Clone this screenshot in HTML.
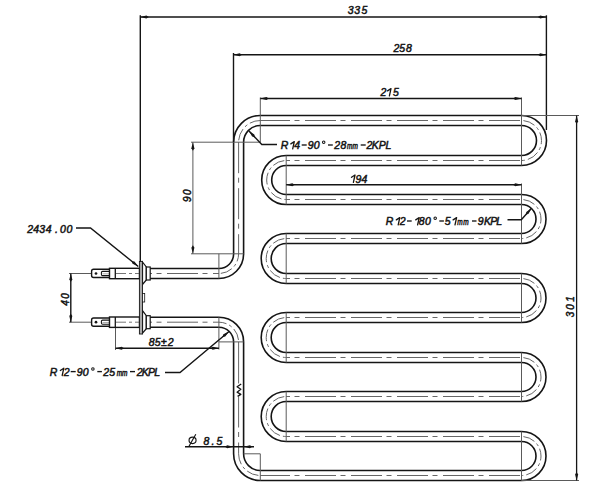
<!DOCTYPE html>
<html><head><meta charset="utf-8"><style>
html,body{margin:0;padding:0;background:#fff;width:600px;height:497px;overflow:hidden;}
svg{display:block;}
text{font-family:"Liberation Sans",sans-serif;}
</style></head><body>
<svg width="600" height="497" viewBox="0 0 600 497">
<rect width="600" height="497" fill="#fff"/>
<path d="M 150 273.5 H 218.9 A 19.7 19.7 0 0 0 238.6 253.8 V 142.2 A 21.7 21.7 0 0 1 260.3 120.5 H 521.5 A 20 20 0 0 1 521.5 160.5 H 286.2 A 19.5 19.5 0 0 0 286.2 199.5 H 521.5 A 19.5 19.5 0 0 1 521.5 238.5 H 286.2 A 20 20 0 0 0 286.2 278.5 H 521.5 A 19.5 19.5 0 0 1 521.5 317.5 H 286.2 A 20 20 0 0 0 286.2 357.5 H 521.5 A 19.5 19.5 0 0 1 521.5 396.5 H 286.2 A 20 20 0 0 0 286.2 436.5 H 521.5 A 19.5 19.5 0 0 1 521.5 475.5 H 260.3 A 21.7 21.7 0 0 1 238.6 453.8 V 341.9 A 19.7 19.7 0 0 0 218.9 322.2 H 150" stroke="#151515" stroke-width="11.6" fill="none"/><path d="M 150 273.5 H 218.9 A 19.7 19.7 0 0 0 238.6 253.8 V 142.2 A 21.7 21.7 0 0 1 260.3 120.5 H 521.5 A 20 20 0 0 1 521.5 160.5 H 286.2 A 19.5 19.5 0 0 0 286.2 199.5 H 521.5 A 19.5 19.5 0 0 1 521.5 238.5 H 286.2 A 20 20 0 0 0 286.2 278.5 H 521.5 A 19.5 19.5 0 0 1 521.5 317.5 H 286.2 A 20 20 0 0 0 286.2 357.5 H 521.5 A 19.5 19.5 0 0 1 521.5 396.5 H 286.2 A 20 20 0 0 0 286.2 436.5 H 521.5 A 19.5 19.5 0 0 1 521.5 475.5 H 260.3 A 21.7 21.7 0 0 1 238.6 453.8 V 341.9 A 19.7 19.7 0 0 0 218.9 322.2 H 150" stroke="#fff" stroke-width="8.4" fill="none"/><line x1="260.3" y1="120.5" x2="521.5" y2="120.5" stroke="#666" stroke-width="1" stroke-dasharray="31 4.5 5 5.5" stroke-dashoffset="1.3"/><line x1="286.2" y1="160.5" x2="521.5" y2="160.5" stroke="#666" stroke-width="1" stroke-dasharray="31 4.5 5 5.5" stroke-dashoffset="27.2"/><line x1="286.2" y1="199.5" x2="521.5" y2="199.5" stroke="#666" stroke-width="1" stroke-dasharray="31 4.5 5 5.5" stroke-dashoffset="27.2"/><line x1="286.2" y1="238.5" x2="521.5" y2="238.5" stroke="#666" stroke-width="1" stroke-dasharray="31 4.5 5 5.5" stroke-dashoffset="27.2"/><line x1="286.2" y1="278.5" x2="521.5" y2="278.5" stroke="#666" stroke-width="1" stroke-dasharray="31 4.5 5 5.5" stroke-dashoffset="27.2"/><line x1="286.2" y1="317.5" x2="521.5" y2="317.5" stroke="#666" stroke-width="1" stroke-dasharray="31 4.5 5 5.5" stroke-dashoffset="27.2"/><line x1="286.2" y1="357.5" x2="521.5" y2="357.5" stroke="#666" stroke-width="1" stroke-dasharray="31 4.5 5 5.5" stroke-dashoffset="27.2"/><line x1="286.2" y1="396.5" x2="521.5" y2="396.5" stroke="#666" stroke-width="1" stroke-dasharray="31 4.5 5 5.5" stroke-dashoffset="27.2"/><line x1="286.2" y1="436.5" x2="521.5" y2="436.5" stroke="#666" stroke-width="1" stroke-dasharray="31 4.5 5 5.5" stroke-dashoffset="27.2"/><line x1="260.3" y1="475.5" x2="521.5" y2="475.5" stroke="#666" stroke-width="1" stroke-dasharray="31 4.5 5 5.5" stroke-dashoffset="1.3"/><path d="M 521.5 120.5 A 20 20 0 0 1 521.5 160.5" stroke="#666" stroke-width="1" fill="none" stroke-dasharray="12 3 3 3" stroke-dashoffset="-2"/><path d="M 521.5 199.5 A 19.5 19.5 0 0 1 521.5 238.5" stroke="#666" stroke-width="1" fill="none" stroke-dasharray="12 3 3 3" stroke-dashoffset="-2"/><path d="M 521.5 278.5 A 19.5 19.5 0 0 1 521.5 317.5" stroke="#666" stroke-width="1" fill="none" stroke-dasharray="12 3 3 3" stroke-dashoffset="-2"/><path d="M 521.5 357.5 A 19.5 19.5 0 0 1 521.5 396.5" stroke="#666" stroke-width="1" fill="none" stroke-dasharray="12 3 3 3" stroke-dashoffset="-2"/><path d="M 521.5 436.5 A 19.5 19.5 0 0 1 521.5 475.5" stroke="#666" stroke-width="1" fill="none" stroke-dasharray="12 3 3 3" stroke-dashoffset="-2"/><path d="M 286.2 160.5 A 19.5 19.5 0 0 0 286.2 199.5" stroke="#666" stroke-width="1" fill="none" stroke-dasharray="12 3 3 3" stroke-dashoffset="-2"/><path d="M 286.2 238.5 A 20 20 0 0 0 286.2 278.5" stroke="#666" stroke-width="1" fill="none" stroke-dasharray="12 3 3 3" stroke-dashoffset="-2"/><path d="M 286.2 317.5 A 20 20 0 0 0 286.2 357.5" stroke="#666" stroke-width="1" fill="none" stroke-dasharray="12 3 3 3" stroke-dashoffset="-2"/><path d="M 286.2 396.5 A 20 20 0 0 0 286.2 436.5" stroke="#666" stroke-width="1" fill="none" stroke-dasharray="12 3 3 3" stroke-dashoffset="-2"/><path d="M 238.6 142.2 A 21.7 21.7 0 0 1 260.3 120.5" stroke="#666" stroke-width="1" fill="none" stroke-dasharray="12 3 3 3" stroke-dashoffset="-2"/><path d="M 260.3 475.5 A 21.7 21.7 0 0 1 238.6 453.8" stroke="#666" stroke-width="1" fill="none" stroke-dasharray="12 3 3 3" stroke-dashoffset="-2"/><path d="M 218.9 273.5 A 19.7 19.7 0 0 0 238.6 253.8" stroke="#666" stroke-width="1" fill="none" stroke-dasharray="12 3 3 3" stroke-dashoffset="-2"/><path d="M 238.6 341.9 A 19.7 19.7 0 0 0 218.9 322.2" stroke="#666" stroke-width="1" fill="none" stroke-dasharray="12 3 3 3" stroke-dashoffset="-2"/><line x1="238.6" y1="142.2" x2="238.6" y2="253.8" stroke="#666" stroke-width="1" stroke-dasharray="31 4.5 5 5.5" stroke-dashoffset="0"/><line x1="238.6" y1="341.9" x2="238.6" y2="383.5" stroke="#666" stroke-width="1"/><line x1="238.6" y1="396.5" x2="238.6" y2="453.8" stroke="#666" stroke-width="1" stroke-dasharray="31 4.5 5 5.5" stroke-dashoffset="0"/><line x1="150" y1="273.5" x2="218.9" y2="273.5" stroke="#666" stroke-width="1" stroke-dasharray="31 4.5 5 5.5" stroke-dashoffset="29"/><line x1="150" y1="322.2" x2="218.9" y2="322.2" stroke="#666" stroke-width="1" stroke-dasharray="31 4.5 5 5.5" stroke-dashoffset="29"/><line x1="521.5" y1="97.5" x2="521.5" y2="165.5" stroke="#5a5a5a" stroke-width="1.0"/><line x1="521.5" y1="183.5" x2="521.5" y2="243.5" stroke="#5a5a5a" stroke-width="1.0"/><line x1="521.5" y1="273.5" x2="521.5" y2="322.5" stroke="#5a5a5a" stroke-width="1.0"/><line x1="521.5" y1="352.5" x2="521.5" y2="401.5" stroke="#5a5a5a" stroke-width="1.0"/><line x1="521.5" y1="431.5" x2="521.5" y2="480.5" stroke="#5a5a5a" stroke-width="1.0"/><line x1="286.2" y1="155.5" x2="286.2" y2="204.5" stroke="#5a5a5a" stroke-width="1.0"/><line x1="286.2" y1="233.5" x2="286.2" y2="283.5" stroke="#5a5a5a" stroke-width="1.0"/><line x1="286.2" y1="312.5" x2="286.2" y2="362.5" stroke="#5a5a5a" stroke-width="1.0"/><line x1="286.2" y1="391.5" x2="286.2" y2="441.5" stroke="#5a5a5a" stroke-width="1.0"/><line x1="260.3" y1="97.5" x2="260.3" y2="142.2" stroke="#5a5a5a" stroke-width="1.0"/><line x1="191" y1="142.2" x2="260.3" y2="142.2" stroke="#5a5a5a" stroke-width="1.0"/><line x1="191" y1="253.8" x2="243.6" y2="253.8" stroke="#5a5a5a" stroke-width="1.0"/><line x1="218.9" y1="253.8" x2="218.9" y2="278.5" stroke="#5a5a5a" stroke-width="1.0"/><line x1="218.9" y1="317.2" x2="218.9" y2="349.5" stroke="#5a5a5a" stroke-width="1.0"/><line x1="218.9" y1="341.9" x2="243.6" y2="341.9" stroke="#5a5a5a" stroke-width="1.0"/><line x1="243.6" y1="453.8" x2="260.3" y2="453.8" stroke="#5a5a5a" stroke-width="1.0"/><line x1="260.3" y1="453.8" x2="260.3" y2="480.5" stroke="#5a5a5a" stroke-width="1.0"/><line x1="140.3" y1="17" x2="546.4" y2="17" stroke="#151515" stroke-width="1.5"/><polygon points="140.3,17 146.42,15.5 148.8,17 146.42,18.5" fill="#151515"/><polygon points="546.4,17 540.28,18.5 537.9,17 540.28,15.5" fill="#151515"/><line x1="140.3" y1="15.3" x2="140.3" y2="262" stroke="#151515" stroke-width="1.4"/><line x1="546.4" y1="15.3" x2="546.4" y2="130" stroke="#151515" stroke-width="1.4"/><line x1="233.5" y1="54.7" x2="546.4" y2="54.7" stroke="#151515" stroke-width="1.4"/><polygon points="233.5,54.7 239.62,53.2 242,54.7 239.62,56.2" fill="#151515"/><polygon points="546.4,54.7 540.28,56.2 537.9,54.7 540.28,53.2" fill="#151515"/><line x1="233.5" y1="53" x2="233.5" y2="142" stroke="#151515" stroke-width="1.4"/><line x1="260.3" y1="98.5" x2="521.5" y2="98.5" stroke="#151515" stroke-width="1.3"/><polygon points="260.3,98.5 266.42,97 268.8,98.5 266.42,100" fill="#151515"/><polygon points="521.5,98.5 515.38,100 513,98.5 515.38,97" fill="#151515"/><line x1="286.2" y1="184.7" x2="521.5" y2="184.7" stroke="#151515" stroke-width="1.4"/><polygon points="286.2,184.7 292.32,183.2 294.7,184.7 292.32,186.2" fill="#151515"/><polygon points="521.5,184.7 515.38,186.2 513,184.7 515.38,183.2" fill="#151515"/><line x1="521.5" y1="115.5" x2="579" y2="115.5" stroke="#5a5a5a" stroke-width="1.0"/><line x1="521.5" y1="480.5" x2="579" y2="480.5" stroke="#5a5a5a" stroke-width="1.0"/><line x1="576.6" y1="115.5" x2="576.6" y2="480.5" stroke="#151515" stroke-width="1.3"/><polygon points="576.6,115.5 578.1,121.62 576.6,124 575.1,121.62" fill="#151515"/><polygon points="576.6,480.5 575.1,474.38 576.6,472 578.1,474.38" fill="#151515"/><line x1="192.9" y1="142.2" x2="192.9" y2="253.8" stroke="#5a5a5a" stroke-width="1.0"/><polygon points="192.9,142.2 194.4,148.32 192.9,150.7 191.4,148.32" fill="#151515"/><polygon points="192.9,253.8 191.4,247.68 192.9,245.3 194.4,247.68" fill="#151515"/><line x1="69" y1="273.5" x2="91.5" y2="273.5" stroke="#5a5a5a" stroke-width="1.0"/><line x1="69" y1="322.2" x2="91.5" y2="322.2" stroke="#5a5a5a" stroke-width="1.0"/><line x1="70.8" y1="273.5" x2="70.8" y2="322.2" stroke="#151515" stroke-width="1.4"/><polygon points="70.8,273.5 72.3,279.62 70.8,282 69.3,279.62" fill="#151515"/><polygon points="70.8,322.2 69.3,316.08 70.8,313.7 72.3,316.08" fill="#151515"/><line x1="115.5" y1="327.5" x2="115.5" y2="350" stroke="#5a5a5a" stroke-width="1.0"/><line x1="115.5" y1="348.2" x2="218.9" y2="348.2" stroke="#151515" stroke-width="1.4"/><polygon points="115.5,348.2 121.62,346.7 124,348.2 121.62,349.7" fill="#151515"/><polygon points="218.9,348.2 212.78,349.7 210.4,348.2 212.78,346.7" fill="#151515"/><line x1="185" y1="446.8" x2="254" y2="446.8" stroke="#151515" stroke-width="1.4"/><polygon points="233.4,446.8 227.28,448.3 224.9,446.8 227.28,445.3" fill="#151515"/><polygon points="243.8,446.8 249.92,445.3 252.3,446.8 249.92,448.3" fill="#151515"/><polyline points="76,228 90.5,228 138.3,266.5" fill="none" stroke="#151515" stroke-width="1.4"/><polygon points="138.3,266.5 132.59,263.83 131.68,261.17 134.47,261.49" fill="#151515"/><polyline points="277,144.5 261.8,144.5 249,131" fill="none" stroke="#151515" stroke-width="1.4"/><polygon points="249,131 254.3,134.41 254.85,137.17 252.12,136.47" fill="#151515"/><polyline points="507.5,219.8 521.3,219.8 531.5,208.3" fill="none" stroke="#151515" stroke-width="1.4"/><polygon points="531.5,208.3 528.56,213.87 525.86,214.66 526.32,211.88" fill="#151515"/><polyline points="165,372.5 180,372.5 229,331.5" fill="none" stroke="#151515" stroke-width="1.4"/><polygon points="229,331.5 225.27,336.58 222.48,336.95 223.34,334.28" fill="#151515"/><polyline points="241.2,384 237.1,386.8 240.8,389.3 237.1,392.2 240.8,394.4 237.6,396.4" fill="none" stroke="#151515" stroke-width="1.35" stroke-linejoin="round"/><path d="M 109.5 269.3 H 93.6 Q 91.6 269.3 91.6 271.3 V 275.5 Q 91.6 277.5 93.6 277.5 H 109.5" fill="#fff" stroke="#151515" stroke-width="1.4"/><circle cx="96" cy="273.5" r="1.35" fill="#151515"/><path d="M 109 271.4 H 102.6 Q 101.4 271.4 101.4 272.6 V 274.4 Q 101.4 275.6 102.6 275.6 H 109" fill="#fff" stroke="#151515" stroke-width="1.1"/><line x1="102.5" y1="273.8" x2="109" y2="273.8" stroke="#999" stroke-width="0.8"/><rect x="109.5" y="268.3" width="30" height="10.4" fill="#fff" stroke="#151515" stroke-width="1.4"/><line x1="115.3" y1="268.3" x2="115.3" y2="278.7" stroke="#151515" stroke-width="1.3"/><line x1="116" y1="273.5" x2="139" y2="273.5" stroke="#666" stroke-width="0.9" stroke-dasharray="10 3 3 3"/><polygon points="142.5,262 146.3,267 146.3,280 142.5,284.5" fill="#fff" stroke="#151515" stroke-width="1.2"/><rect x="146.3" y="267" width="3.9" height="13" fill="#fff" stroke="#151515" stroke-width="1.2"/><path d="M 109.5 318 H 93.6 Q 91.6 318 91.6 320 V 324.2 Q 91.6 326.2 93.6 326.2 H 109.5" fill="#fff" stroke="#151515" stroke-width="1.4"/><circle cx="96" cy="322.2" r="1.35" fill="#151515"/><path d="M 109 320.1 H 102.6 Q 101.4 320.1 101.4 321.3 V 323.1 Q 101.4 324.3 102.6 324.3 H 109" fill="#fff" stroke="#151515" stroke-width="1.1"/><line x1="102.5" y1="322.5" x2="109" y2="322.5" stroke="#999" stroke-width="0.8"/><rect x="109.5" y="317" width="30" height="10.4" fill="#fff" stroke="#151515" stroke-width="1.4"/><line x1="115.3" y1="317" x2="115.3" y2="327.4" stroke="#151515" stroke-width="1.3"/><line x1="116" y1="322.2" x2="139" y2="322.2" stroke="#666" stroke-width="0.9" stroke-dasharray="10 3 3 3"/><polygon points="142.5,310.7 146.3,315.7 146.3,328.7 142.5,333.2" fill="#fff" stroke="#151515" stroke-width="1.2"/><rect x="146.3" y="315.7" width="3.9" height="13" fill="#fff" stroke="#151515" stroke-width="1.2"/><rect x="139.4" y="261.5" width="3.1" height="72.5" fill="#aaa" stroke="#151515" stroke-width="0.9"/><rect x="142.5" y="293.5" width="2.2" height="8.5" fill="#fff" stroke="#151515" stroke-width="0.8"/>
<g font-family="Liberation Sans, sans-serif" font-style="italic" fill="#151515" stroke="#151515" stroke-width="0.5"><text x="347.75" y="14.4" font-size="10.5">3</text><text x="354.25" y="14.4" font-size="10.5">3</text><text x="361.5" y="14.4" font-size="10.5">5</text><text x="393.55" y="52.1" font-size="10.5">2</text><text x="399.2" y="52.1" font-size="10.5">5</text><text x="405.95" y="52.1" font-size="10.5">8</text><text x="380.55" y="96.1" font-size="10.5">2</text><polyline points="387.5,90.9 391,88.6 389.4,95.9" fill="none" stroke="#151515" stroke-width="1.3" stroke-linejoin="round" stroke-linecap="round"/><text x="393" y="96.1" font-size="10.5">5</text><polyline points="351.5,177.3 355,175 353.4,182.3" fill="none" stroke="#151515" stroke-width="1.3" stroke-linejoin="round" stroke-linecap="round"/><text x="355.45" y="182.5" font-size="10.5">9</text><text x="361.5" y="182.5" font-size="10.5">4</text><text x="280.75" y="149.1" font-size="10.5">R</text><polyline points="290.8,143.9 294.3,141.6 292.7,148.9" fill="none" stroke="#151515" stroke-width="1.3" stroke-linejoin="round" stroke-linecap="round"/><text x="294.2" y="149.1" font-size="10.5">4</text><line x1="301.7" y1="145" x2="306.7" y2="145" stroke="#151515" stroke-width="1.35"/><text x="307.75" y="149.1" font-size="10.5">9</text><text x="313.75" y="149.1" font-size="10.5">0</text><circle cx="323.7" cy="142.3" r="1.25" fill="none" stroke="#151515" stroke-width="1.05"/><line x1="328" y1="145" x2="332.8" y2="145" stroke="#151515" stroke-width="1.35"/><text x="334.25" y="149.1" font-size="10.5">2</text><text x="340.45" y="149.1" font-size="10.5">8</text><text transform="translate(347 149.1) scale(0.74 1)" font-size="8.8">m</text><text transform="translate(352.6 149.1) scale(0.74 1)" font-size="8.8">m</text><line x1="360.7" y1="145" x2="365.7" y2="145" stroke="#151515" stroke-width="1.35"/><text x="366.55" y="149.1" font-size="10.5">2</text><text x="371.75" y="149.1" font-size="10.5">K</text><text x="378.75" y="149.1" font-size="10.5">P</text><text x="385.45" y="149.1" font-size="10.5">L</text><text x="385.75" y="225.1" font-size="10.5">R</text><polyline points="396.3,219.9 399.8,217.6 398.2,224.9" fill="none" stroke="#151515" stroke-width="1.3" stroke-linejoin="round" stroke-linecap="round"/><text x="399.75" y="225.1" font-size="10.5">2</text><line x1="407" y1="221" x2="411.7" y2="221" stroke="#151515" stroke-width="1.35"/><polyline points="415.7,219.9 419.2,217.6 417.6,224.9" fill="none" stroke="#151515" stroke-width="1.3" stroke-linejoin="round" stroke-linecap="round"/><text x="418.75" y="225.1" font-size="10.5">8</text><text x="424.95" y="225.1" font-size="10.5">0</text><circle cx="435.2" cy="218.3" r="1.25" fill="none" stroke="#151515" stroke-width="1.05"/><line x1="439.3" y1="221" x2="443.9" y2="221" stroke="#151515" stroke-width="1.35"/><text x="444.7" y="225.1" font-size="10.5">5</text><polyline points="453.1,219.9 456.6,217.6 455,224.9" fill="none" stroke="#151515" stroke-width="1.3" stroke-linejoin="round" stroke-linecap="round"/><text transform="translate(457.2 225.1) scale(0.74 1)" font-size="8.8">m</text><text transform="translate(463.2 225.1) scale(0.74 1)" font-size="8.8">m</text><line x1="472" y1="221" x2="476.5" y2="221" stroke="#151515" stroke-width="1.35"/><text x="477.75" y="225.1" font-size="10.5">9</text><text x="484.05" y="225.1" font-size="10.5">K</text><text x="490.25" y="225.1" font-size="10.5">P</text><text x="496.25" y="225.1" font-size="10.5">L</text><text x="49.75" y="375.7" font-size="10.5">R</text><polyline points="60.3,370.5 63.8,368.2 62.2,375.5" fill="none" stroke="#151515" stroke-width="1.3" stroke-linejoin="round" stroke-linecap="round"/><text x="63.65" y="375.7" font-size="10.5">2</text><line x1="70.7" y1="371.6" x2="75.7" y2="371.6" stroke="#151515" stroke-width="1.35"/><text x="76.75" y="375.7" font-size="10.5">9</text><text x="82.75" y="375.7" font-size="10.5">0</text><circle cx="92.9" cy="368.9" r="1.25" fill="none" stroke="#151515" stroke-width="1.05"/><line x1="97.3" y1="371.6" x2="101.9" y2="371.6" stroke="#151515" stroke-width="1.35"/><text x="103.25" y="375.7" font-size="10.5">2</text><text x="109.3" y="375.7" font-size="10.5">5</text><text transform="translate(116.7 375.7) scale(0.74 1)" font-size="8.8">m</text><text transform="translate(122.1 375.7) scale(0.74 1)" font-size="8.8">m</text><line x1="130" y1="371.6" x2="135" y2="371.6" stroke="#151515" stroke-width="1.35"/><text x="136.75" y="375.7" font-size="10.5">2</text><text x="141.75" y="375.7" font-size="10.5">K</text><text x="148.05" y="375.7" font-size="10.5">P</text><text x="154.25" y="375.7" font-size="10.5">L</text><text x="27.25" y="233" font-size="10.5">2</text><text x="33.3" y="233" font-size="10.5">4</text><text x="39.15" y="233" font-size="10.5">3</text><text x="45.8" y="233" font-size="10.5">4</text><text x="54.95" y="233" font-size="10.5">.</text><text x="59.95" y="233" font-size="10.5">0</text><text x="66.45" y="233" font-size="10.5">0</text><text x="148.75" y="345.8" font-size="10.5">8</text><text x="154.8" y="345.8" font-size="10.5">5</text><text x="161.05" y="345.8" font-size="10.5">±</text><text x="167.75" y="345.8" font-size="10.5">2</text><text x="203.45" y="444.5" font-size="10.5">8</text><text x="211.55" y="444.5" font-size="10.5">.</text><text x="216.5" y="444.5" font-size="10.5">5</text><ellipse cx="192.55" cy="440.35" rx="3.5" ry="3.2" fill="none" stroke="#151515" stroke-width="1.15"/><line x1="189" y1="446.3" x2="195.8" y2="434.3" stroke="#151515" stroke-width="1.15"/><g transform="translate(190.6 201.7) rotate(-90)"><text x="-0.24" y="0" font-size="10.0">9</text><text x="6.66" y="0" font-size="10.0">0</text></g><g transform="translate(68.5 305.8) rotate(-90)"><text x="0" y="0" font-size="10.0">4</text><text x="6.96" y="0" font-size="10.0">0</text></g><g transform="translate(573.7 316.9) rotate(-90)"><text x="-0.24" y="0" font-size="10.0">3</text><text x="7.16" y="0" font-size="10.0">0</text><text x="15.06" y="0" font-size="10.0">1</text></g></g>
</svg>
</body></html>
